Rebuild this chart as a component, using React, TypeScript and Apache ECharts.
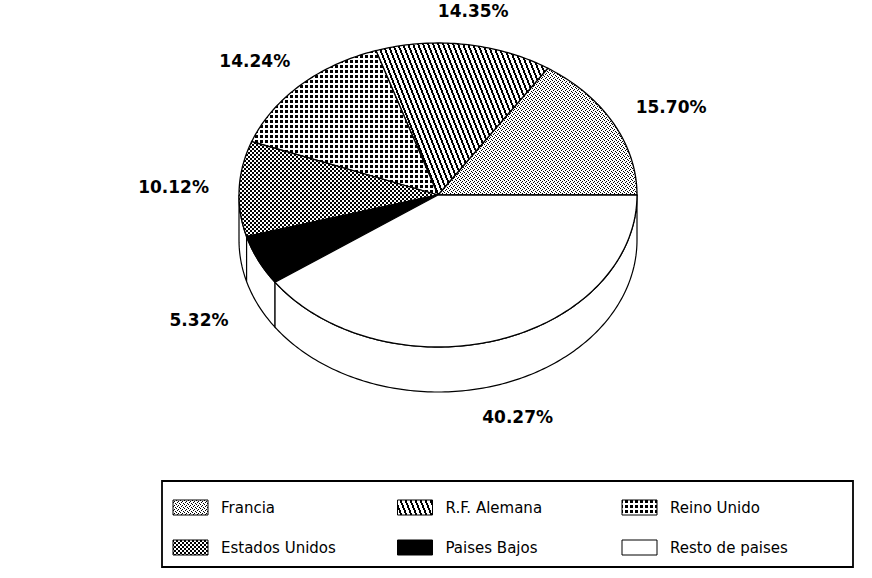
import React, { useEffect, useRef } from "react";
import * as echarts from "echarts";

// ---- data ----
const categories = ["Francia", "R.F. Alemana", "Reino Unido", "Estados Unidos", "Paises Bajos", "Resto de paises"];
const shares = [15.7, 14.35, 14.24, 10.12, 5.32, 40.27];
const shareLabels = ["15.70%", "14.35%", "14.24%", "10.12%", "5.32%", "40.27%"];

// ---- layout ----
const CX = 438;
const CY = 195;
const RX = 199;
const RY = 152;
const DEPTH = 45;

type PatFn = (x: number, y: number) => boolean;

function makeTile(w: number, h: number, fn: PatFn | null, solid?: string): any {
  if (solid) return solid;
  const c = document.createElement("canvas");
  c.width = w;
  c.height = h;
  const ctx = c.getContext("2d")!;
  ctx.fillStyle = "#fff";
  ctx.fillRect(0, 0, w, h);
  ctx.fillStyle = "#000";
  for (let y = 0; y < h; y++) {
    for (let x = 0; x < w; x++) {
      if (fn && fn(x, y)) ctx.fillRect(x, y, 1, 1);
    }
  }
  return { image: c.toDataURL(), imageWidth: w, imageHeight: h, repeat: "repeat" };
}

function buildFills(): any[] {
  const mod = (a: number, n: number) => ((a % n) + n) % n;
  const stipple = [[0, 0], [2, 1], [1, 2], [3, 3]];
  return [
    // Francia: light scattered stipple
    makeTile(4, 4, (x, y) => stipple.some((p) => p[0] === x && p[1] === y)),
    // R.F. Alemana: steep diagonal hatching
    makeTile(5, 25, (x, y) => mod(x - Math.floor(y * 0.4), 5) < 2),
    // Reino Unido: dot grid
    makeTile(5, 5, (x, y) => x % 5 < 3 && y % 5 < 3),
    // Estados Unidos: dense checker
    makeTile(4, 4, (x, y) => (Math.floor(x / 2) + Math.floor(y / 2)) % 2 === 0),
    // Paises Bajos: solid black
    makeTile(1, 1, null, "#000"),
    // Resto: white
    makeTile(1, 1, null, "#fff"),
  ];
}

const total = shares.reduce((a, b) => a + b, 0);
const startAngles: number[] = [];
{
  let acc = 0;
  for (const v of shares) {
    startAngles.push((acc / total) * 360);
    acc += v;
  }
}

const rad = (d: number) => (d * Math.PI) / 180;
const topPt = (deg: number): number[] => [CX + RX * Math.cos(rad(deg)), CY - RY * Math.sin(rad(deg))];

function arcPts(a0: number, a1: number, dy = 0): number[][] {
  const pts: number[][] = [];
  const n = Math.max(2, Math.ceil(Math.abs(a1 - a0)));
  for (let i = 0; i <= n; i++) {
    const a = a0 + ((a1 - a0) * i) / n;
    const p = topPt(a);
    pts.push([p[0], p[1] + dy]);
  }
  return pts;
}

export default function App() {
  const ref = useRef<HTMLDivElement>(null);

  useEffect(() => {
    if (!ref.current) return;
    const chart = echarts.init(ref.current, null, { renderer: "svg" });
    const fills = buildFills();

    const sliceData = shares.map((v, i) => ({ name: categories[i], value: v }));

    const sideSeries = {
      type: "custom",
      coordinateSystem: "none",
      z: 1,
      data: sliceData,
      renderItem: (params: any, api: any) => {
        const i = params.dataIndex;
        const a0 = startAngles[i];
        const a1 = a0 + (api.value(0) / total) * 360;
        const s = Math.max(a0, 180);
        const e = Math.min(a1, 360);
        if (e <= s) return { type: "group", children: [] };
        const top = arcPts(s, e, 0);
        const bottom = arcPts(e, s, DEPTH);
        return {
          type: "polygon",
          shape: { points: top.concat(bottom) },
          style: { fill: "#fff", stroke: "#000", lineWidth: 1.2 },
        };
      },
    };

    const topSeries = {
      type: "custom",
      coordinateSystem: "none",
      z: 2,
      data: sliceData,
      renderItem: (params: any, api: any) => {
        const i = params.dataIndex;
        const a0 = startAngles[i];
        const a1 = a0 + (api.value(0) / total) * 360;
        const pts = [[CX, CY]].concat(arcPts(a0, a1, 0));
        const m = rad((a0 + a1) / 2);
        const lx = CX + 1.33 * RX * Math.cos(m);
        const ly = CY - 1.22 * RY * Math.sin(m) + (Math.sin(m) < -0.05 ? DEPTH : 0);
        return {
          type: "group",
          children: [
            {
              type: "polygon",
              shape: { points: pts },
              style: { fill: fills[i], stroke: "#000", lineWidth: 1.3 },
            },
            {
              type: "text",
              style: {
                text: shareLabels[i],
                x: lx,
                y: ly,
                align: "center",
                verticalAlign: "middle",
                fill: "#000",
                fontFamily: "DejaVu Sans",
                fontWeight: "bold",
                fontSize: 17,
              },
            },
          ],
        };
      },
    };

    // legend drawn with graphic elements
    const legendChildren: any[] = [
      {
        type: "rect",
        shape: { x: 162, y: 481, width: 691, height: 86 },
        style: { fill: "none", stroke: "#000", lineWidth: 1.8 },
      },
    ];
    categories.forEach((name, i) => {
      const col = i % 3;
      const row = Math.floor(i / 3);
      const sx = 173 + col * 224.5;
      const sy = 500 + row * 40;
      legendChildren.push({
        type: "rect",
        shape: { x: sx, y: sy, width: 35, height: 15 },
        style: { fill: fills[i], stroke: "#000", lineWidth: 1 },
      });
      legendChildren.push({
        type: "text",
        x: sx + 48,
        y: sy + 8,
        style: {
          text: name,
          fill: "#000",
          fontFamily: "DejaVu Sans",
          fontSize: 15,
          align: "left",
          verticalAlign: "middle",
        },
      });
    });

    chart.setOption({
      animation: false,
      backgroundColor: "#fff",
      series: [sideSeries, topSeries],
      graphic: [{ type: "group", children: legendChildren }],
    });

    return () => chart.dispose();
  }, []);

  return (
    <div
      ref={ref}
      style={{ position: "absolute", left: 0, top: 0, width: 872, height: 578, background: "#fff" }}
    />
  );
}
